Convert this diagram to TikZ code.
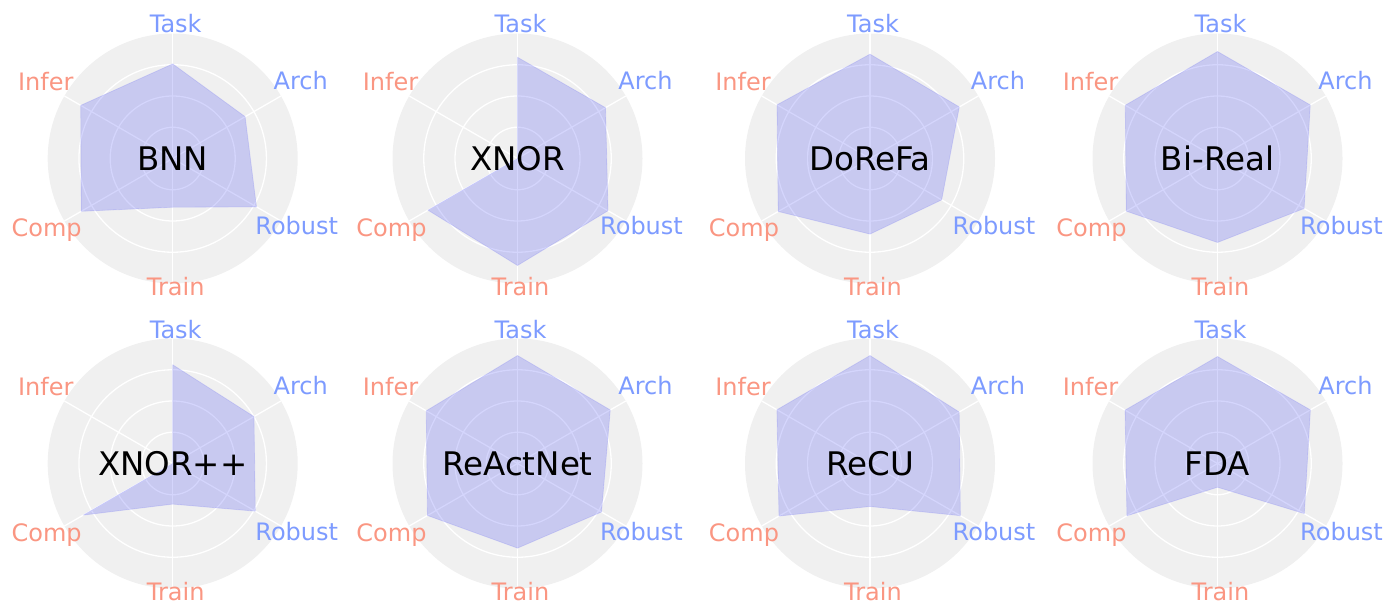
\documentclass[tikz,border=0pt]{standalone}
\usepackage{fontspec}
\setmainfont{DejaVu Sans}
\definecolor{disk}{RGB}{240,240,240}
\definecolor{polyfill}{RGB}{40,45,240}
\definecolor{axblue}{RGB}{125,155,255}
\definecolor{axred}{RGB}{250,150,130}
\tikzset{
  lbl/.style={anchor=base,font=\fontsize{24}{27}\selectfont,inner sep=0pt},
  bluelbl/.style={lbl,text=axblue},
  redlbl/.style={lbl,text=axred},
  charttitle/.style={font=\fontsize{32.5}{36}\selectfont,text=black,inner sep=0pt},
  gridline/.style={white,line width=1.3pt},
  poly/.style={fill=polyfill,fill opacity=0.2,draw=polyfill,draw opacity=0.12,line width=0.8pt,line join=round}
}
% #1 id, #2 title, #3 Task, #4 Arch, #5 Robust, #6 Train, #7 Comp, #8 Infer
\newcommand\radarplot[8]{%
  \fill[disk] (0,0) circle (125);
  \foreach \rr in {31.25,62.5,93.75} \draw[gridline] (0,0) circle (\rr);
  \foreach \aa in {90,30,-30,-90,210,150} \draw[gridline] (0,0) -- (\aa:125);
  \coordinate (#1-c) at (0,0);
  \draw[poly] (90:{#3*125}) -- (30:{#4*125}) -- (-30:{#5*125}) -- (-90:{#6*125})
     -- (210:{#7*125}) -- (150:{#8*125}) -- cycle;
  \node[bluelbl] (#1-task) at (3,125.5) {Task};
  \node[bluelbl] (#1-arch) at (128,69) {Arch};
  \node[bluelbl] (#1-robust) at (124,-76.5) {Robust};
  \node[redlbl] (#1-train) at (3,-136.5) {Train};
  \node[redlbl] (#1-comp) at (-126,-77.5) {Comp};
  \node[redlbl] (#1-infer) at (-127,68) {Infer};
  \node[charttitle] (#1-title) at (0,0) {#2};
}
\begin{document}
\begin{tikzpicture}[x=1pt,y=1pt]
\useasboundingbox (0,0) rectangle (1386,606);
\begin{scope}[shift={(172.7,447.5)}]
  \radarplot{bnn}{BNN}{0.757}{0.669}{0.774}{0.39}{0.845}{0.85}
\end{scope}
\begin{scope}[shift={(517.5,447.5)}]
  \radarplot{xnor}{XNOR}{0.81}{0.813}{0.836}{0.856}{0.827}{0}
\end{scope}
\begin{scope}[shift={(870,447.5)}]
  \radarplot{dorefa}{DoReFa}{0.835}{0.825}{0.662}{0.605}{0.848}{0.859}
\end{scope}
\begin{scope}[shift={(1217.5,447.5)}]
  \radarplot{bireal}{Bi-Real}{0.856}{0.857}{0.80}{0.672}{0.843}{0.852}
\end{scope}
\begin{scope}[shift={(172.7,142.5)}]
  \radarplot{xnorpp}{XNOR++}{0.79}{0.751}{0.763}{0.325}{0.826}{0}
\end{scope}
\begin{scope}[shift={(517.5,142.5)}]
  \radarplot{react}{ReActNet}{0.864}{0.857}{0.776}{0.677}{0.832}{0.843}
\end{scope}
\begin{scope}[shift={(870,142.5)}]
  \radarplot{recu}{ReCU}{0.864}{0.824}{0.835}{0.344}{0.841}{0.86}
\end{scope}
\begin{scope}[shift={(1217.5,142.5)}]
  \radarplot{fda}{FDA}{0.856}{0.858}{0.802}{0.19}{0.837}{0.854}
\end{scope}
\end{tikzpicture}
\end{document}
